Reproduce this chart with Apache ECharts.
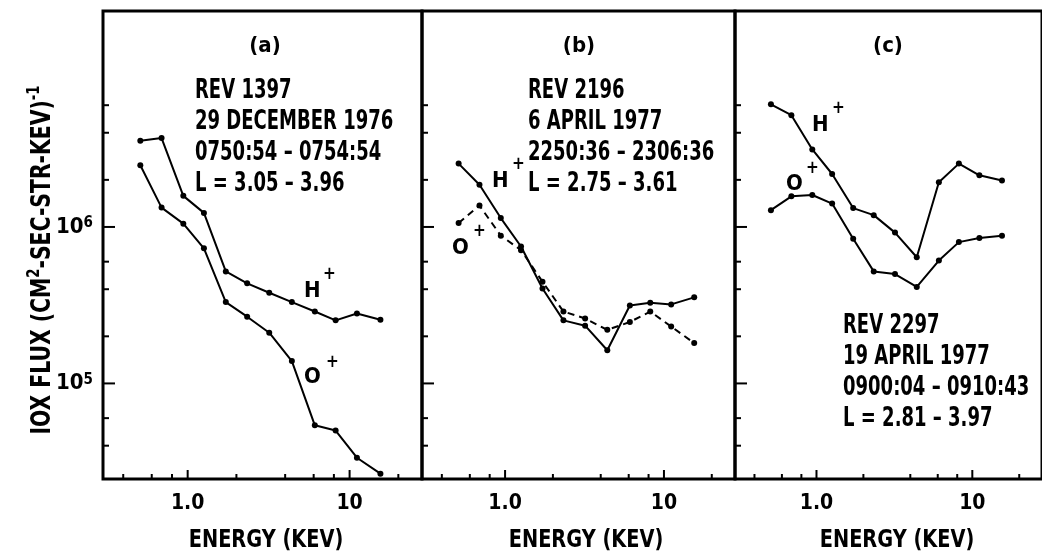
<!DOCTYPE html>
<html>
<head>
    <meta charset="UTF-8">
    <title>H+ / O+ flux spectra</title>
    <script src="https://cdn.jsdelivr.net/npm/echarts@6/dist/echarts.min.js"></script>
    <style>
        html, body { margin: 0; padding: 0; background: #fff; }
        #chart { width: 1042px; height: 552px; }
    </style>
</head>
<body>
<div id="chart"></div>
<script type="text/javascript">
// energy channels (keV), same for the three passes
var energy = [0.51, 0.69, 0.94, 1.26, 1.72, 2.33, 3.19, 4.4, 6.1, 8.2, 11.1, 15.5];

// (a) REV 1397
var hFluxA = [3.56e6, 3.7e6, 1.58e6, 1.23e6, 5.2e5, 4.36e5, 3.8e5, 3.31e5, 2.88e5, 2.53e5, 2.8e5, 2.55e5];
var oFluxA = [2.48e6, 1.33e6, 1.05e6, 7.3e5, 3.31e5, 2.67e5, 2.11e5, 1.39e5, 5.4e4, 5.0e4, 3.35e4, 2.65e4];
// (b) REV 2196
var hFluxB = [2.54e6, 1.86e6, 1.14e6, 7.5e5, 4.04e5, 2.53e5, 2.34e5, 1.63e5, 3.15e5, 3.28e5, 3.2e5, 3.55e5];
var oFluxB = [1.06e6, 1.37e6, 8.8e5, 7.1e5, 4.47e5, 2.88e5, 2.6e5, 2.2e5, 2.47e5, 2.88e5, 2.31e5, 1.81e5];
// (c) REV 2297
var hFluxC = [6.08e6, 5.18e6, 3.13e6, 2.18e6, 1.32e6, 1.19e6, 9.2e5, 6.4e5, 1.93e6, 2.54e6, 2.14e6, 1.98e6];
var oFluxC = [1.28e6, 1.57e6, 1.6e6, 1.41e6, 8.4e5, 5.2e5, 5.0e5, 4.14e5, 6.1e5, 8.0e5, 8.5e5, 8.8e5];

// ticks
var xMajor = [1, 10];
var xMinor = [0.4, 0.6, 0.8, 2, 4, 6, 8, 20];
var yMajor = [1e5, 1e6];
var yMinor = [4e4, 6e4, 2e5, 4e5, 6e5, 2e6, 4e6, 6e6];
var xLabels = { '1': '1.0', '10': '10' };
var yLabels = { '5': '{b|10}{s|5}', '6': '{b|10}{s|6}' };

var panelNames = ['(a)', '(b)', '(c)'];
var panelNotes = [
    'REV 1397\n29 DECEMBER 1976\n0750:54 – 0754:54\nL = 3.05 – 3.96',
    'REV 2196\n6 APRIL 1977\n2250:36 – 2306:36\nL = 2.75 – 3.61',
    'REV 2297\n19 APRIL 1977\n0900:04 – 0910:43\nL = 2.81 – 3.97'
];

var FONT = '"DejaVu Sans Condensed", "DejaVu Sans", sans-serif';
var X_MIN = 0.3, X_MAX = 28, Y_MIN = 2.45e4, Y_MAX = 2.4e7;
var NARROW = 0.77;   // the lettering in the figure is very condensed

var myChart = echarts.init(document.getElementById('chart'));

var grids = [
    { left: 103, top: 11, width: 319, height: 468 },
    { left: 422, top: 11, width: 313, height: 468 },
    { left: 735, top: 11, width: 313, height: 468 }
];

function pairs(ys) {
    return energy.map(function (e, i) { return [e, ys[i]]; });
}

// tick marks drawn inward through the axes' own scales
function tickSeries(idx, vals, dir, len) {
    var data = vals.map(function (v) { return dir === 'x' ? [v, Y_MIN] : [X_MIN, v]; });
    return {
        type: 'custom',
        xAxisIndex: idx, yAxisIndex: idx,
        silent: true, clip: false,
        data: data,
        renderItem: function (params, api) {
            var p = api.coord([api.value(0), api.value(1)]);
            var shape = dir === 'x'
                ? { x1: p[0], y1: p[1], x2: p[0], y2: p[1] - len }
                : { x1: p[0], y1: p[1], x2: p[0] + len, y2: p[1] };
            return { type: 'line', shape: shape, style: { stroke: '#000', lineWidth: 2 } };
        }
    };
}

function lineSeries(idx, ys, dashed) {
    return {
        type: 'line',
        xAxisIndex: idx, yAxisIndex: idx,
        data: pairs(ys),
        symbol: 'circle', symbolSize: 6,
        itemStyle: { color: '#000' },
        lineStyle: { color: '#000', width: 2, type: dashed ? [7, 5] : 'solid' },
        animation: false
    };
}

var xAxes = [], yAxes = [], series = [];
for (var i = 0; i < 3; i++) {
    xAxes.push({
        type: 'log', gridIndex: i, min: X_MIN, max: X_MAX,
        axisLine: { show: false }, axisTick: { show: false }, splitLine: { show: false },
        axisLabel: {
            margin: 14, color: '#000', fontSize: 21, fontWeight: 'bold', fontFamily: FONT,
            showMinLabel: false, showMaxLabel: false,
            formatter: function (v) {
                var k = Math.round(v * 1000) / 1000;
                return xLabels[String(k)] || '';
            }
        }
    });
    yAxes.push({
        type: 'log', gridIndex: i, min: Y_MIN, max: Y_MAX,
        axisLine: { show: false }, axisTick: { show: false }, splitLine: { show: false },
        axisLabel: {
            show: i === 0, margin: 10, color: '#000',
            showMinLabel: false, showMaxLabel: false,
            formatter: function (v) {
                var e = Math.round(Math.log10(v) * 1000) / 1000;
                return yLabels[String(e)] || '';
            },
            rich: {
                b: { fontSize: 22, fontWeight: 'bold', fontFamily: FONT, color: '#000' },
                s: { fontSize: 15, fontWeight: 'bold', fontFamily: FONT, color: '#000', verticalAlign: 'top', lineHeight: 12 }
            }
        }
    });
    series.push(tickSeries(i, xMinor, 'x', 5));
    series.push(tickSeries(i, xMajor, 'x', 9));
    series.push(tickSeries(i, yMinor, 'y', 6));
    series.push(tickSeries(i, yMajor, 'y', 12));
}
series.push(lineSeries(0, hFluxA, false), lineSeries(0, oFluxA, false));
series.push(lineSeries(1, hFluxB, false), lineSeries(1, oFluxB, true));
series.push(lineSeries(2, hFluxC, false), lineSeries(2, oFluxC, false));

function txt(x, y, s, size, extra, sx) {
    var o = { type: 'text', x: x, y: y, silent: true, scaleX: sx || 1,
        style: { text: s, fill: '#000', fontSize: size, fontWeight: 'bold', fontFamily: FONT } };
    if (extra) for (var k in extra) o.style[k] = extra[k];
    return o;
}

var graphics = [
    txt(265, 46, panelNames[0], 22, { align: 'center', verticalAlign: 'middle' }),
    txt(579, 46, panelNames[1], 22, { align: 'center', verticalAlign: 'middle' }),
    txt(888, 46, panelNames[2], 22, { align: 'center', verticalAlign: 'middle' }),
    txt(195, 76, panelNotes[0], 26, { lineHeight: 31 }, NARROW),
    txt(528, 76, panelNotes[1], 26, { lineHeight: 31 }, NARROW),
    txt(843, 311, panelNotes[2], 26, { lineHeight: 31 }, NARROW),
    // species labels
    txt(304, 280, 'H', 22), txt(323, 266, '+', 17),
    txt(304, 366, 'O', 22), txt(326, 354, '+', 17),
    txt(492, 170, 'H', 22), txt(512, 156, '+', 17),
    txt(452, 237, 'O', 22), txt(473, 223, '+', 17),
    txt(812, 114, 'H', 22), txt(832, 100, '+', 17),
    txt(786, 173, 'O', 22), txt(806, 160, '+', 17),
    // x-axis titles
    txt(266, 540, 'ENERGY (KEV)', 25, { align: 'center', verticalAlign: 'middle' }, 0.86),
    txt(586, 540, 'ENERGY (KEV)', 25, { align: 'center', verticalAlign: 'middle' }, 0.86),
    txt(897, 540, 'ENERGY (KEV)', 25, { align: 'center', verticalAlign: 'middle' }, 0.86),
    // y-axis title
    {
        type: 'text', x: 43, y: 260, rotation: Math.PI / 2, scaleX: 0.87, silent: true,
        style: {
            text: '{t|IOX FLUX (CM}{s|2}{t|-SEC-STR-KEV)}{s|-1}',
            align: 'center', verticalAlign: 'middle',
            rich: {
                t: { fontSize: 26, fontWeight: 'bold', fontFamily: FONT, fill: '#000', lineHeight: 34 },
                s: { fontSize: 17, fontWeight: 'bold', fontFamily: FONT, fill: '#000', verticalAlign: 'top', lineHeight: 14 }
            }
        }
    }
];

var option = {
    backgroundColor: '#fff',
    animation: false,
    grid: grids.map(function (g) {
        return { left: g.left, top: g.top, width: g.width, height: g.height,
                 show: true, borderColor: '#000', borderWidth: 3, backgroundColor: 'transparent' };
    }),
    xAxis: xAxes,
    yAxis: yAxes,
    series: series,
    graphic: graphics
};

myChart.setOption(option);
</script>
</body>
</html>
